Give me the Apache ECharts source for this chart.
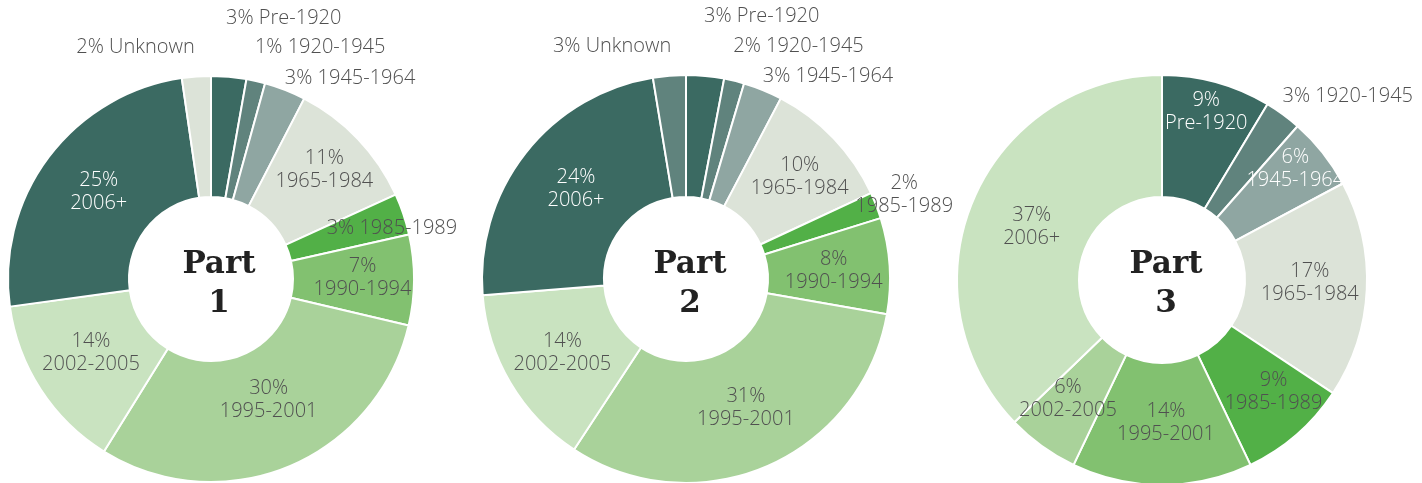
<!DOCTYPE html>
<html>
<head>
<meta charset="utf-8">
<script src="https://cdn.jsdelivr.net/npm/echarts@6/dist/echarts.min.js"></script>
<style>
  html, body { margin: 0; padding: 0; background: #fff; }
  #main { width: 1422px; height: 483px; }
</style>
</head>
<body>
<div id="main"></div>
<script>
// 三个环形图：各年代建筑占比

// 类别
var part1Names = ['Pre-1920', '1920-1945', '1945-1964', '1965-1984', '1985-1989', '1990-1994', '1995-2001', '2002-2005', '2006+', 'Unknown'];
var part2Names = ['Pre-1920', '1920-1945', '1945-1964', '1965-1984', '1985-1989', '1990-1994', '1995-2001', '2002-2005', '2006+', 'Unknown'];
var part3Names = ['Pre-1920', '1920-1945', '1945-1964', '1965-1984', '1985-1989', '1995-2001', '2002-2005', '2006+'];

// 标签上的百分比
var part1Pct = [3, 1, 3, 11, 3, 7, 30, 14, 25, 2];
var part2Pct = [3, 2, 3, 10, 2, 8, 31, 14, 24, 3];
var part3Pct = [9, 3, 6, 17, 9, 14, 6, 37];

// 扇区大小（从图上量出的份额）
var part1Values = [2.8, 1.5, 3.3, 10.6, 3.3, 7.2, 30.2, 14.0, 24.9, 2.3];
var part2Values = [3.0, 1.6, 3.1, 10.4, 2.1, 7.6, 31.5, 14.5, 23.7, 2.6];
var part3Values = [8.6, 2.9, 5.7, 17.1, 8.6, 14.2, 5.7, 37.2];

var C_DARK = '#3b6a62', C_MID = '#60837d', C_GREY = '#8fa6a2', C_PALE = '#dce3d8',
    C_G1 = '#52b047', C_G2 = '#82c170', C_G3 = '#a9d29a', C_G4 = '#c9e3c0';

var part1Colors = [C_DARK, C_MID, C_GREY, C_PALE, C_G1, C_G2, C_G3, C_G4, C_DARK, C_PALE];
var part2Colors = [C_DARK, C_MID, C_GREY, C_PALE, C_G1, C_G2, C_G3, C_G4, C_DARK, C_MID];
var part3Colors = [C_DARK, C_MID, C_GREY, C_PALE, C_G1, C_G2, C_G3, C_G4];

// 标签样式：[offsetX, offsetY, 单行?, 白字?]
var part1Lbl = [[60, -116, 1, 0], [77, -90, 1, 0], [86, -65, 1, 0], [8, -9, 0, 0], [43, -4, 1, 0],
                [6, -2, 0, 0], [2, -14, 0, 0], [2, -5, 0, 0], [4, 0, 0, 1], [-65, -87, 1, 0]];
var part2Lbl = [[62, -117, 1, 0], [78, -91, 1, 0], [87, -67, 1, 0], [8, -2, 0, 0], [82, -32, 0, 0],
                [2, 1, 0, 0], [2, -5, 0, 0], [2, -1, 0, 0], [5, 0, 0, 1], [-62, -87, 1, 0]];
var part3Lbl = [[5, -27, 0, 1], [99, -65, 1, 0], [18, -20, 0, 1], [1, -4, 0, 0], [15, 1, 0, 0],
                [4, -4, 0, 0], [-8, 0, 0, 0], [5, 4, 0, 0]];

var textFont = '"Open Sans", "Noto Sans", sans-serif';

function buildData(names, values, pct, colors, lbl) {
    return names.map(function (n, i) {
        var l = lbl[i];
        var txt = l[2] ? pct[i] + '% ' + n : pct[i] + '%\n' + n;
        return {
            name: n,
            value: values[i],
            itemStyle: { color: colors[i] },
            label: {
                formatter: txt,
                offset: [l[0], l[1]],
                color: l[3] ? '#ffffff' : '#505050'
            }
        };
    });
}

function makeSeries(center, radius, data) {
    return {
        type: 'pie',
        center: center,
        radius: radius,
        startAngle: 90,
        clockwise: true,
        silent: true,
        avoidLabelOverlap: false,
        itemStyle: { borderColor: '#ffffff', borderWidth: 2 },
        label: {
            show: true,
            position: 'inside',
            fontFamily: textFont,
            fontWeight: 300,
            fontSize: 20,
            lineHeight: 23,
            align: 'center'
        },
        labelLayout: { hideOverlap: false },
        labelLine: { show: false },
        emphasis: { disabled: true },
        data: data
    };
}

function centerTitle(txt, x) {
    return {
        text: txt,
        left: x,
        top: 279,
        textAlign: 'center',
        textVerticalAlign: 'middle',
        textStyle: {
            fontFamily: '"DejaVu Serif", serif',
            fontWeight: 'bold',
            fontSize: 31,
            lineHeight: 39,
            color: '#222222'
        }
    };
}

var myChart = echarts.init(document.getElementById('main'));

var option = {
    animation: false,
    title: [
        centerTitle('Part\n1', 214),
        centerTitle('Part\n2', 685),
        centerTitle('Part\n3', 1161)
    ],
    series: [
        makeSeries([211, 279], [82, 203], buildData(part1Names, part1Values, part1Pct, part1Colors, part1Lbl)),
        makeSeries([686, 279], [82, 204], buildData(part2Names, part2Values, part2Pct, part2Colors, part2Lbl)),
        makeSeries([1162, 280], [83, 205], buildData(part3Names, part3Values, part3Pct, part3Colors, part3Lbl))
    ]
};

myChart.setOption(option);
</script>
</body>
</html>
